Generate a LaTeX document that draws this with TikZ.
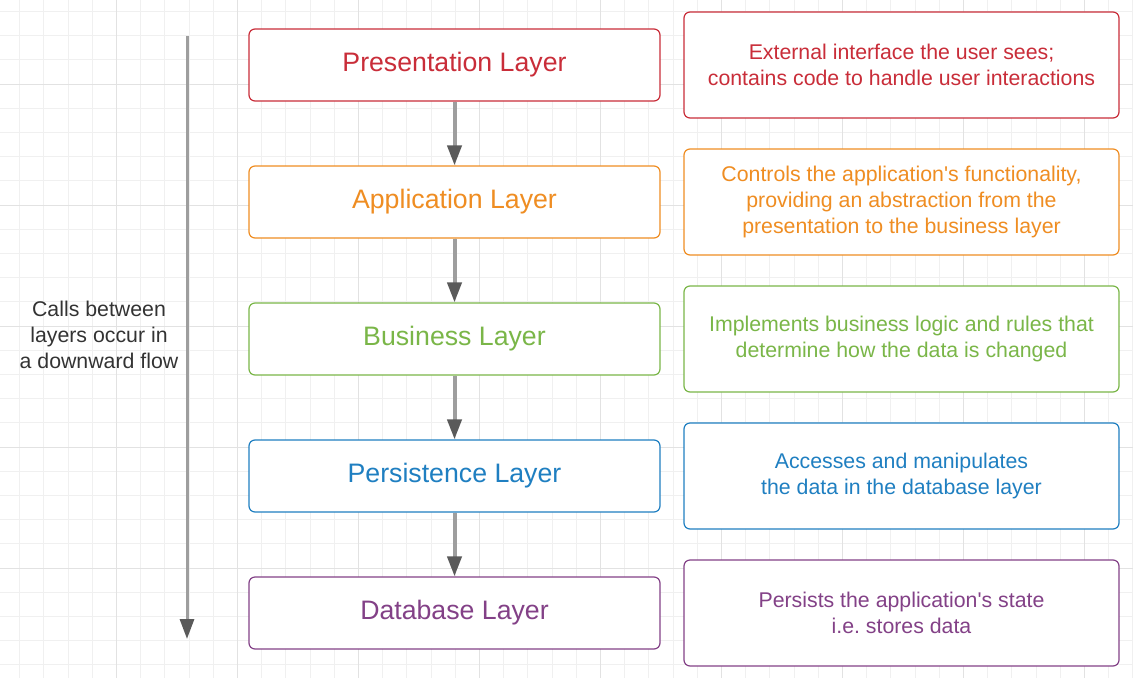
\documentclass[tikz,border=0pt]{standalone}
\usepackage{fontspec}
\setmainfont{Liberation Sans}
\usetikzlibrary{arrows.meta}
\definecolor{layred}{HTML}{C92D39}
\definecolor{layorange}{HTML}{EF8D22}
\definecolor{laygreen}{HTML}{7AB648}
\definecolor{layblue}{HTML}{1F7FC1}
\definecolor{laypurple}{HTML}{834187}
\definecolor{flowgray}{HTML}{9E9E9E}
\definecolor{flowdark}{HTML}{5A5A5A}
\definecolor{gridminor}{HTML}{F0F0F0}
\definecolor{gridmajor}{HTML}{E2E2E2}
\tikzset{
    layer/.style = {draw = #1, text = #1, rounded corners = 6pt, line width = 1.2pt,
        minimum width = 411pt, minimum height = 72pt, font = \fontsize{26.7}{32}\selectfont},
    note/.style = {draw = #1, text = #1, rounded corners = 6pt, line width = 1.2pt,
        minimum width = 435pt, minimum height = 106pt, align = center,
        font = \fontsize{21.3}{26}\selectfont},
    flow/.style = {draw = flowgray, line width = 4pt,
        -{Triangle[length = 20pt, width = 14pt, color = flowdark]}}
}

\begin{document}
\begin{tikzpicture}[x = 1pt, y = -1pt]
        \useasboundingbox (0, 0) rectangle (1133, 678);

        \foreach \i in {0, ..., 46} \draw[gridminor, line width = 1pt] ({19.7 + 24.2*\i}, 0) -- ++(0, 678);
        \foreach \i in {0, ..., 27} \draw[gridminor, line width = 1pt] (0, {11.4 + 24.2*\i}) -- ++(1133, 0);
        \foreach \i in {0, ..., 8} \draw[gridmajor, line width = 1pt] ({116.5 + 121*\i}, 0) -- ++(0, 678);
        \foreach \i in {0, ..., 4} \draw[gridmajor, line width = 1pt] (0, {84 + 121*\i}) -- ++(1133, 0);

        \node[layer = layred, fill = white] (pres) at (454.5, 65) {Presentation Layer};
        \node[layer = layorange, fill = white] (app) at (454.5, 202) {Application Layer};
        \node[layer = laygreen, fill = white] (bus) at (454.5, 339) {Business Layer};
        \node[layer = layblue, fill = white] (pers) at (454.5, 476) {Persistence Layer};
        \node[layer = laypurple, fill = white] (db) at (454.5, 613) {Database Layer};

        \node[note = layred, fill = white] (presnote) at (901.5, 65)
            {External interface the user sees;\\contains code to handle user interactions};
        \node[note = layorange, fill = white] (appnote) at (901.5, 202)
            {Controls the application\textquotesingle s functionality,\\providing an abstraction from the\\presentation to the business layer};
        \node[note = laygreen, fill = white] (busnote) at (901.5, 339)
            {Implements business logic and rules that\\determine how the data is changed};
        \node[note = layblue, fill = white] (persnote) at (901.5, 476)
            {Accesses and manipulates\\the data in the database layer};
        \node[note = laypurple, fill = white] (dbnote) at (901.5, 613)
            {Persists the application\textquotesingle s state\\i.e.\ stores data};

        \draw[flow] (pres) -- (app);
        \draw[flow] (app) -- (bus);
        \draw[flow] (bus) -- (pers);
        \draw[flow] (pers) -- (db);

        \coordinate (flowtop) at (187, 36);
        \coordinate (flowend) at (187, 639);
        \draw[flow, line width = 3pt] (flowtop) -- (flowend);

        \node[align = center, text = black!80, font = \fontsize{21.3}{26}\selectfont] (calls) at (99, 335)
            {Calls between\\layers occur in\\a downward flow};
    \end{tikzpicture}
\end{document}
